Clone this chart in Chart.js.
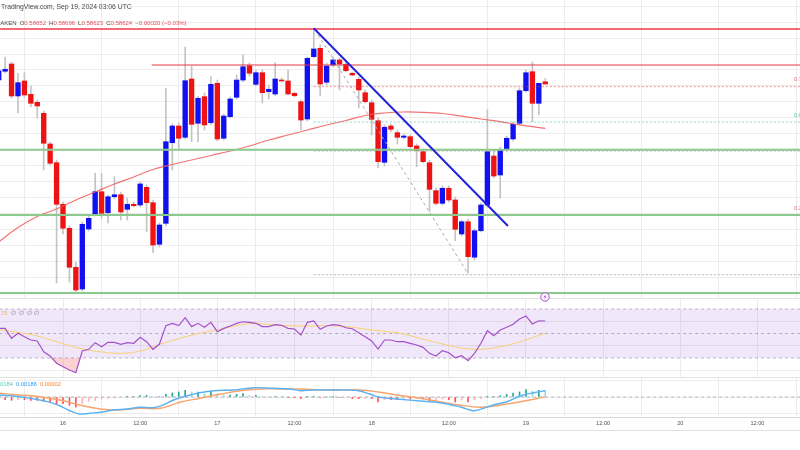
<!DOCTYPE html>
<html>
<head>
<meta charset="utf-8">
<title>XRP/USD 1h – Kraken</title>
<script src="https://cdn.jsdelivr.net/npm/chart.js@4.4.1/dist/chart.umd.min.js"></script>
<style>
  html, body { margin:0; padding:0; background:#fff; }
  body { width:800px; height:450px; position:relative; overflow:hidden; font-family:"Liberation Sans", Arial, sans-serif; }
  .pane { position:absolute; left:0; width:800px; }
  #mainPane { top:0; height:298px; }
  #rsiPane { top:298px; height:79px; }
  #macdPane { top:377px; height:73px; }
  .sep { position:absolute; left:0; width:800px; height:1px; background:#e2e2e2; z-index:3; }
  .txt { position:absolute; white-space:nowrap; font-size:5.8px; line-height:1; z-index:5; }
  .gap { margin-left:3px; }
  .red { color:#e5505a; }
</style>
</head>
<body>
<div class="pane" id="mainPane"><canvas id="mainChart"></canvas></div>
<div class="pane" id="rsiPane"><canvas id="rsiChart"></canvas></div>
<div class="pane" id="macdPane"><canvas id="macdChart"></canvas></div>
<div class="sep" style="top:298px"></div>
<div class="sep" style="top:377px"></div>
<div class="sep" style="top:430px"></div>

<div class="txt" id="hdr1" style="top:3.5px;left:1px;color:#4a4a4a;font-size:6.8px">TradingView.com, Sep 19, 2024 03:06 UTC</div>
<div class="txt" id="hdr2" style="top:19.5px;left:0;color:#444;font-size:6px"><span id="cut1">KR</span>AKEN<span class="gap">O</span><span class="red">0.58652</span><span class="gap">H</span><span class="red">0.58696</span><span class="gap">L</span><span class="red">0.58623</span><span class="gap">C</span><span class="red">0.58624</span><span class="gap red">−0.00020 (−0.03%)</span></div>

<div class="txt" style="top:77px;left:794px;color:#ee6b74">0.764</div>
<div class="txt" style="top:113px;left:794px;color:#4fc3ad">0.618</div>
<div class="txt" style="top:206px;left:794px;color:#ee6b74">0.236</div>

<div class="txt" id="rsiLbl" style="top:311px;left:1px;"><span style="color:#e9c25a">25</span><span style="color:#8a8a8a;margin-left:4px;letter-spacing:2.6px">∅∅∅∅</span></div>
<div class="txt" id="macdLbl" style="top:382px;left:0;"><span id="cut2" style="color:#5ec8b6">0.0</span><span style="color:#5ec8b6">0184</span><span style="color:#2f9cf0;margin-left:3px">0.00186</span><span style="color:#f5842f;margin-left:3px">0.00002</span></div>

<svg style="position:absolute;left:540px;top:292px;z-index:5" width="10" height="10" viewBox="0 0 10 10">
  <circle cx="5" cy="5" r="4.2" fill="#fff" stroke="#a64fd6" stroke-width="1"/>
  <path d="M5.7 2.2 L3.6 5.3 H5 L4.4 7.8 L6.5 4.6 H5.1 Z" fill="#a64fd6"/>
</svg>

<script>
// ---------------- DATA (XRP/USD, Kraken, 1h candles; hours counted from Sep 16 00:00 UTC) ----------------
const hours = [-10,-9,-8,-7,-6,-5,-4,-3,-2,-1,
  0,1,2,3,4,5,6,7,8,9,
  10,11,12,13,14,15,16,17,18,19,
  20,21,22,23,24,25,26,27,28,29,
  30,31,32,33,34,35,36,37,38,39,
  40,41,42,43,44,45,46,47,48,49,
  50,51,52,53,54,55,56,57,58,59,
  60,61,62,63,64,65,66,67,68,69,
  70,71,72,73,74,75];

const open = [0.58674,0.58784,0.58875,0.58474,0.58662,0.58495,0.58394,0.58256,0.57871,0.57636,
  0.57114,0.56813,0.56323,0.56050,0.56804,0.56988,0.57272,0.57008,0.57209,0.57234,
  0.57051,0.57114,0.57105,0.57327,0.57134,0.56612,0.56875,0.57887,0.58097,0.57955,
  0.58687,0.58131,0.58465,0.58138,0.58633,0.57943,0.58214,0.58457,0.58674,0.58854,
  0.58620,0.58766,0.58528,0.58499,0.58674,0.58662,0.58507,0.58402,0.58185,0.58967,
  0.59072,0.58646,0.58863,0.58926,0.58872,0.58759,0.58683,0.58515,0.58389,0.58163,
  0.57641,0.58097,0.58013,0.57955,0.57963,0.57846,0.57774,0.57636,0.57285,0.57126,
  0.57315,0.57168,0.56741,0.56895,0.56449,0.56782,0.57105,0.57720,0.57482,0.57804,
  0.57934,0.58131,0.58540,0.58779,0.58382,0.58652];

const high = [0.58850,0.58963,0.58900,0.58759,0.58766,0.58599,0.58423,0.58285,0.57896,0.57670,
  0.57143,0.56841,0.56389,0.56892,0.56967,0.57503,0.57503,0.57231,0.57460,0.57268,
  0.57193,0.57143,0.57394,0.57356,0.57168,0.56879,0.58570,0.58122,0.58135,0.59089,
  0.58850,0.58474,0.58511,0.58716,0.58674,0.58248,0.58461,0.58737,0.58988,0.58888,
  0.58800,0.58800,0.58612,0.58892,0.58700,0.58800,0.58524,0.58423,0.58963,0.59315,
  0.59114,0.58888,0.58963,0.58951,0.58900,0.58775,0.58712,0.58549,0.58423,0.58197,
  0.58110,0.58122,0.58047,0.57996,0.57984,0.57871,0.57808,0.57670,0.57319,0.57344,
  0.57344,0.57206,0.56917,0.56929,0.56804,0.57130,0.58298,0.57796,0.57833,0.57971,
  0.58147,0.58574,0.58800,0.58900,0.58637,0.58696];

const low = [0.58624,0.58762,0.58448,0.58260,0.58461,0.58339,0.58194,0.57545,0.57607,0.56126,
  0.56741,0.56138,0.56013,0.56025,0.56779,0.56967,0.56942,0.56879,0.57180,0.56917,
  0.56917,0.57080,0.57080,0.56770,0.56506,0.56578,0.56841,0.57545,0.57796,0.57934,
  0.57900,0.57900,0.58047,0.58110,0.57909,0.57921,0.58197,0.58436,0.58651,0.58725,
  0.58599,0.58386,0.58436,0.58474,0.58651,0.58486,0.58461,0.58047,0.58160,0.58951,
  0.58474,0.58612,0.58838,0.58549,0.58775,0.58725,0.58323,0.58386,0.57984,0.57570,
  0.57595,0.58022,0.57871,0.57934,0.57821,0.57586,0.57632,0.57021,0.57105,0.57105,
  0.57143,0.56657,0.56716,0.56248,0.56415,0.56766,0.57080,0.57444,0.57193,0.57783,
  0.57909,0.58110,0.58524,0.58151,0.58235,0.58623];

const close = [0.58791,0.58809,0.58474,0.58641,0.58486,0.58382,0.58348,0.57880,0.57629,0.57114,
  0.56813,0.56323,0.56038,0.56863,0.56938,0.57272,0.57001,0.57209,0.57234,0.57017,
  0.57114,0.57096,0.57369,0.57134,0.56603,0.56854,0.57900,0.58097,0.57943,0.58666,
  0.58118,0.58445,0.58110,0.58620,0.57934,0.58222,0.58436,0.58674,0.58841,0.58759,
  0.58766,0.58515,0.58558,0.58687,0.58662,0.58499,0.58477,0.58172,0.58947,0.59064,
  0.58624,0.58850,0.58926,0.58875,0.58791,0.58737,0.58549,0.58402,0.58181,0.57649,
  0.58081,0.58055,0.57955,0.57971,0.57837,0.57787,0.57649,0.57302,0.57126,0.57315,
  0.57168,0.56800,0.56895,0.56456,0.56782,0.57105,0.57774,0.57469,0.57804,0.57943,
  0.58118,0.58540,0.58766,0.58382,0.58633,0.58624];

// 100-period moving average (read at sample hours)
const maHours  = [-10,-7,-4,-1,2,5,8,11,14,17,20,23,26,29,32,35,38,41,44,47,50,53,56,59,62,65,68,71,75];
const maValues = [0.56641,0.56823,0.56961,0.57055,0.57168,0.57268,0.57369,0.57457,0.57551,0.57614,
  0.57670,0.57727,0.57783,0.57846,0.57921,0.57984,0.58047,0.58110,0.58166,0.58229,
  0.58260,0.58273,0.58269,0.58254,0.58222,0.58185,0.58151,0.58110,0.58068];

// RSI (one value per candle)
const rsiValues = [54.2,54.2,46.1,50.2,47.4,44.7,43.9,35.1,31.6,25.7,
  22.9,20.2,18.0,35.7,37.1,42.5,39.2,42.8,42.8,41.2,
  42.5,42.0,46.9,43.3,37.1,41.4,56.4,58.3,56.4,62.9,
  55.6,58.3,55.1,59.1,51.5,54.2,56.1,58.3,59.6,59.1,
  58.3,55.6,55.6,57.2,56.7,54.2,53.7,48.8,59.1,60.2,
  53.4,56.1,57.2,56.7,54.7,53.9,50.7,47.4,43.9,37.3,
  44.7,44.7,43.3,43.3,42.0,40.6,38.7,33.8,31.6,36.0,
  34.3,30.2,31.9,27.8,33.8,42.0,52.3,48.2,52.9,55.1,
  57.5,61.8,64.3,57.8,60.4,60.2];
const rsiMaHours  = [-9.8,-6.7,-3.6,-0.5,2.6,5.8,8.9,12,15.1,18.2,21.3,24.4,27.5,29.6,31.7,34.8,37.9,41,44.2,47.3,50.4,52.4,55.5,58.6,61.7,64.9,68,71.1,74.2,75];
const rsiMaValues = [52.9,50.7,47.4,42.5,37.9,35.1,33.8,35.7,41.2,46.1,50.2,53.4,56.9,58.3,57.5,56.4,56.1,56.4,55.6,53.4,51.5,50.2,46.1,42.0,38.4,37.1,39.2,43.3,48.8,50.2];
const rsiLevels = [70, 50, 30];

// MACD
const macdHours  = [-9.8,-6.7,-3.6,-1.5,0,1.4,2.6,4.2,5.8,7.8,9.9,12,14,15.6,17.2,19.2,21.3,23.4,26.5,29.6,32.7,35.3,36.9,38.9,42,44.1,46.2,47.7,49.3,52.4,55.5,58.6,61.7,63.8,64.9,66.9,69,71.1,73.2,75];
const macdValues = [0.00059,0.00009,-0.00089,-0.00186,-0.00304,-0.00434,-0.00502,-0.00481,-0.00451,-0.00384,
  -0.00354,-0.00304,-0.00316,-0.00236,-0.00089,0.00030,0.00127,0.00186,0.00207,0.00274,
  0.00257,0.00236,0.00186,0.00207,0.00207,0.00207,0.00177,0.00089,-0.00009,-0.00068,
  -0.00118,-0.00168,-0.00286,-0.00404,-0.00363,-0.00236,-0.00139,0.00030,0.00127,0.00186];
const signalHours  = [-9.8,-6.7,-3.6,-0.5,2.6,5.8,8.9,12,15.1,18.2,21.3,24.4,27.5,30.6,33.7,36.9,40,43.1,46.2,49.3,52.4,55.5,58.6,61.7,64.9,68,71.1,75];
const signalValues = [0.00109,0.00059,0.00009,-0.00089,-0.00236,-0.00354,-0.00384,-0.00333,-0.00333,-0.00156,
  -0.00038,0.00080,0.00186,0.00236,0.00236,0.00236,0.00207,0.00207,0.00207,0.00139,
  0.00044,-0.00038,-0.00139,-0.00236,-0.00304,-0.00236,-0.00139,0.00002];
const histValues = [-0.00070,-0.00079,-0.00098,-0.00079,-0.00079,-0.00098,-0.00098,-0.00128,-0.00148,-0.00197,
  -0.00197,-0.00246,-0.00295,-0.00197,-0.00128,-0.00098,-0.00059,-0.00044,-0.00030,-0.00015,
  0.00020,0.00020,0.00039,0.00049,0.00010,0.00015,0.00079,0.00118,0.00148,0.00197,
  0.00148,0.00148,0.00098,0.00167,0.00098,0.00059,0.00059,0.00079,0.00098,0.00049,
  0.00049,0.00015,0.00010,0.00020,0.00005,-0.00010,-0.00020,-0.00049,0.00010,0.00020,
  -0.00020,0.00000,0.00005,-0.00020,-0.00010,-0.00049,-0.00049,-0.00035,-0.00049,-0.00148,
  -0.00079,-0.00079,-0.00079,-0.00060,-0.00060,-0.00049,-0.00060,-0.00128,-0.00098,-0.00060,
  -0.00080,-0.00148,-0.00090,-0.00148,-0.00079,-0.00049,0.00020,0.00020,0.00039,0.00079,
  0.00118,0.00148,0.00216,0.00167,0.00197,0.00184];

// Time axis
const tickHours  = [0,12,24,36,48,60,72,84,96,108];
const tickLabels = ['16','12:00','17','12:00','18','12:00','19','12:00','20','12:00'];

// Drawings
const supportLevels   = [0.5780, 0.5698, 0.5600];
const topResistance   = 0.59315;
const resistanceLevel = 0.58863;
const resistanceStart = 13.8;
const fibLevels = [0.58591, 0.58147, 0.57783, 0.56973, 0.56230];
const fibStart  = 39;
const trendHours  = [39.0, 69.2];
const trendPrices = [0.59324, 0.56841];
const swingHours  = [39.7, 62.8];
const swingPrices = [0.59239, 0.56268];

// ---------------- LAYOUT / STYLE ----------------
const PX_PER_HOUR = 6.43, X_ZERO = 63, WIDTH = 800;
const xMin = -X_ZERO / PX_PER_HOUR;
const xMax = (WIDTH - X_ZERO) / PX_PER_HOUR;
const L = xMin - 2, R = xMax + 2;
const GRID = '#ececec';
const FONT = 'Liberation Sans';

document.getElementById('hdr2').style.left = (-document.getElementById('cut1').offsetWidth) + 'px';
document.getElementById('macdLbl').style.left = (-document.getElementById('cut2').offsetWidth) + 'px';

Chart.defaults.font.family = FONT;
Chart.defaults.animation = false;

function xAxis(showLabels) {
  return {
    type: 'linear', min: xMin, max: xMax, offset: false,
    grid: { color: GRID, lineWidth: 1, drawTicks: false },
    border: showLabels ? { display: true, color: '#d8d8d8' } : { display: false },
    ticks: {
      display: showLabels, autoSkip: false, maxRotation: 0, padding: 3,
      color: '#555', font: { size: 5.6, family: FONT },
      callback: v => { const i = tickHours.indexOf(v); return i >= 0 ? tickLabels[i] : ''; }
    },
    afterBuildTicks: s => { s.ticks = tickHours.map(v => ({ value: v })); },
    afterFit: s => { s.height = showLabels ? 33 : 0; }
  };
}
function yAxis(min, max, step) {
  return {
    type: 'linear', position: 'right', min, max,
    grid: { color: GRID, lineWidth: 1, drawTicks: false },
    border: { display: false },
    ticks: { display: false, stepSize: step, includeBounds: false },
    afterFit: s => { s.width = 0; }
  };
}
function seg(x1, y1, x2, y2) { return [{ x: x1, y: y1 }, { x: x2, y: y2 }]; }
function lineDs(data, color, width, dash, order, extra) {
  return Object.assign({ type: 'line', data, borderColor: color, borderWidth: width, borderDash: dash || [],
    pointRadius: 0, fill: false, order, tension: 0 }, extra || {});
}
const baseOpts = {
  responsive: true, maintainAspectRatio: false, animation: false, events: [],
  layout: { padding: 0 },
  plugins: { legend: { display: false }, tooltip: { enabled: false } }
};

// ---------------- MAIN PRICE PANE ----------------
const PX_PER_PRICE = 15.93 / 0.002;
const priceMax = 0.588 + 70 / PX_PER_PRICE;
const priceMin = 0.588 - (298 - 70) / PX_PER_PRICE;
const UP = '#1010f0', DOWN = '#ee1212';
const fibColors = ['rgba(240,70,80,0.6)', 'rgba(60,190,165,0.6)', 'rgba(130,130,140,0.6)', 'rgba(240,70,80,0.6)', 'rgba(130,130,140,0.6)'];

const mainDatasets = [
  { type: 'bar', data: hours.map((h, i) => ({ x: h, y: [low[i], high[i]] })), backgroundColor: '#c4c4c4',
    barThickness: 1, grouped: false, order: 100 },
  { type: 'bar', data: hours.map((h, i) => ({ x: h, y: [open[i], close[i]] })),
    backgroundColor: hours.map((h, i) => close[i] >= open[i] ? UP : DOWN),
    barThickness: 4.7, minBarLength: 1, grouped: false, order: 90 },
  lineDs(maHours.map((h, i) => ({ x: h, y: maValues[i] })), 'rgba(240,90,90,0.85)', 1.2, [], 80, { tension: 0.4 })
];
fibLevels.forEach((v, i) => mainDatasets.push(lineDs(seg(fibStart, v, R, v), fibColors[i], 1, [2, 2], 70)));
supportLevels.forEach(v => mainDatasets.push(lineDs(seg(L, v, R, v), '#8cc98d', 2, [], 60)));
mainDatasets.push(lineDs(seg(L, topResistance, R, topResistance), '#f03a48', 1.5, [], 60));
mainDatasets.push(lineDs(seg(resistanceStart, resistanceLevel, R, resistanceLevel), '#e53940', 1.2, [], 60));
mainDatasets.push(lineDs(seg(swingHours[0], swingPrices[0], swingHours[1], swingPrices[1]), '#a8a8a8', 1, [3, 3], 55));
mainDatasets.push(lineDs(seg(trendHours[0], trendPrices[0], trendHours[1], trendPrices[1]), '#2323dc', 2, [], 50));

new Chart(document.getElementById('mainChart'), {
  type: 'bar',
  data: { datasets: mainDatasets },
  options: Object.assign({}, baseOpts, {
    scales: { x: xAxis(false), y: yAxis(priceMin, priceMax, 0.002) }
  })
});

// ---------------- RSI PANE ----------------
const RSI_PX = 1.225;
const rsiMax = 70 + 11 / RSI_PX;
const rsiMin = 30 - (79 - 60) / RSI_PX;
const bandLine = 'rgba(130,125,150,0.55)';
new Chart(document.getElementById('rsiChart'), {
  type: 'line',
  data: { datasets: [
    lineDs(seg(L, rsiLevels[0], R, rsiLevels[0]), bandLine, 1, [3, 3], 30, { fill: '+1', backgroundColor: 'rgba(140,80,220,0.13)' }),
    lineDs(seg(L, rsiLevels[2], R, rsiLevels[2]), bandLine, 1, [3, 3], 29),
    lineDs(seg(L, rsiLevels[1], R, rsiLevels[1]), bandLine, 1, [3, 3], 28),
    lineDs(hours.map((h, i) => ({ x: h, y: rsiValues[i] })), '#a450c8', 1.2, [], 10,
      { fill: { target: { value: 30 }, above: 'rgba(0,0,0,0)', below: 'rgba(242,70,80,0.25)' } }),
    lineDs(rsiMaHours.map((h, i) => ({ x: h, y: rsiMaValues[i] })), '#f6cf72', 1, [], 12, { tension: 0.4 })
  ] },
  options: Object.assign({}, baseOpts, {
    scales: { x: xAxis(false), y: yAxis(rsiMin, rsiMax, 20) }
  })
});

// ---------------- MACD PANE ----------------
const MACD_PER_PX = 0.000295;
const macdMax = 20 * MACD_PER_PX, macdMin = -20 * MACD_PER_PX;
const histColors = histValues.map((v, i) => {
  const prev = i > 0 ? histValues[i - 1] : v;
  if (v >= 0) return v >= prev ? '#26a69a' : '#9fd8d1';
  return v <= prev ? '#ff5252' : '#ffb3ba';
});
new Chart(document.getElementById('macdChart'), {
  type: 'bar',
  data: { datasets: [
    lineDs(seg(L, 0, R, 0), bandLine, 1, [3, 3], 40),
    { type: 'bar', data: hours.map((h, i) => ({ x: h, y: histValues[i] })), backgroundColor: histColors,
      barThickness: 1, grouped: false, order: 30 },
    lineDs(signalHours.map((h, i) => ({ x: h, y: signalValues[i] })), '#f7a56e', 1.4, [], 20, { tension: 0.4 }),
    lineDs(macdHours.map((h, i) => ({ x: h, y: macdValues[i] })), '#5ab2f2', 1.4, [], 10, { tension: 0.4 })
  ] },
  options: Object.assign({}, baseOpts, {
    scales: { x: xAxis(true), y: yAxis(macdMin, macdMax, 0.005) }
  })
});
</script>
</body>
</html>
